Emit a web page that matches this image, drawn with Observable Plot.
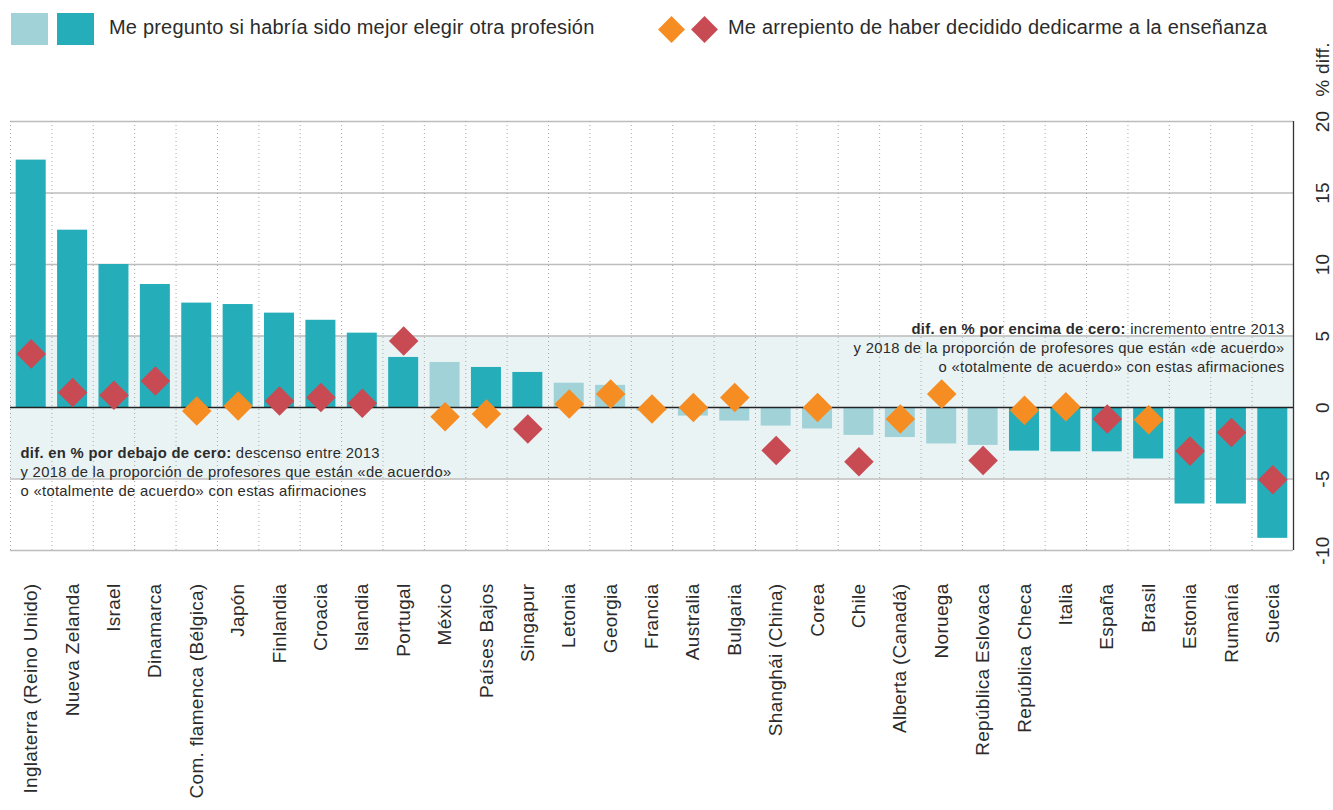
<!DOCTYPE html>
<html>
<head>
<meta charset="utf-8">
<script src="https://cdn.jsdelivr.net/npm/d3@7"></script>
<script src="https://cdn.jsdelivr.net/npm/@observablehq/plot@0.6"></script>
<style>
  body { margin: 0; background: #fff; font-family: "Liberation Sans", Arial, sans-serif; }
  #wrap { position: relative; width: 1333px; height: 810px; overflow: hidden; }
  #chart { position: absolute; left: 0; top: 0; }
  #chart svg text { letter-spacing: 0.3px; }
  #legend { position: absolute; left: 0; top: 0; width: 1333px; height: 60px; z-index: 2; color: #2b2b2b; font-size: 20px; letter-spacing: 0.2px; }
  .sq { position: absolute; top: 13px; width: 37px; height: 32px; }
  .dm { position: absolute; top: 20px; width: 19px; height: 19px; transform: rotate(45deg); }
  .lt { position: absolute; top: 16px; line-height: 23px; white-space: nowrap; }
</style>
</head>
<body>
<div id="wrap">
  <div id="legend"></div>
  <div id="chart"></div>
</div>
<script>
// ---------------- data ----------------
const countries = [
  "Inglaterra (Reino Unido)", "Nueva Zelanda", "Israel", "Dinamarca", "Com. flamenca (Bélgica)",
  "Japón", "Finlandia", "Croacia", "Islandia", "Portugal", "México", "Países Bajos", "Singapur",
  "Letonia", "Georgia", "Francia", "Australia", "Bulgaria", "Shanghái (China)", "Corea", "Chile",
  "Alberta (Canadá)", "Noruega", "República Eslovaca", "República Checa", "Italia", "España",
  "Brasil", "Estonia", "Rumanía", "Suecia"
];
// "Me pregunto si habría sido mejor elegir otra profesión" (% diff. 2013-2018)
const betterProfession = [
  17.3, 12.4, 10.0, 8.6, 7.3, 7.2, 6.6, 6.1, 5.2, 3.5, 3.15, 2.8, 2.45,
  1.7, 1.55, -0.25, -0.6, -0.95, -1.3, -1.5, -1.95,
  -2.1, -2.55, -2.65, -3.05, -3.1, -3.1, -3.6, -6.75, -6.75, -9.15
];
const betterProfessionSig = [
  1, 1, 1, 1, 1, 1, 1, 1, 1, 1, 0, 1, 1,
  0, 0, 0, 0, 0, 0, 0, 0,
  0, 0, 0, 1, 1, 1, 1, 1, 1, 1
];
// "Me arrepiento de haber decidido dedicarme a la enseñanza" (% diff. 2013-2018)
const regret = [
  3.75, 1.05, 0.85, 1.85, -0.25, 0.1, 0.45, 0.7, 0.3, 4.65, -0.65, -0.45, -1.5,
  0.25, 0.95, -0.1, 0.0, 0.7, -3.0, 0.0, -3.8,
  -0.8, 0.95, -3.7, -0.2, 0.05, -0.8, -0.85, -3.05, -1.75, -5.05
];
const regretSig = [
  1, 1, 1, 1, 0, 0, 1, 1, 1, 1, 0, 0, 1,
  0, 0, 0, 0, 0, 1, 0, 1,
  0, 0, 1, 0, 0, 1, 0, 1, 1, 1
];
const yDomain = [-10, 20];
const gridValues = [-10, -5, 5, 10, 15, 20];
const yTicks = [-10, -5, 0, 5, 10, 15, 20];
const yTickLabels = ["-10", "-5", "0", "5", "10", "15", "20"];
const yAxisLabel = "% diff.";
const bandRange = [-5, 5];
const legendBars = "Me pregunto si habría sido mejor elegir otra profesión";
const legendDiamonds = "Me arrepiento de haber decidido dedicarme a la enseñanza";
const annotUpper = [
  "dif. en % por encima de cero: incremento entre 2013",
  "y 2018 de la proporción de profesores que están «de acuerdo»",
  "o «totalmente de acuerdo» con estas afirmaciones"
];
const annotLower = [
  "dif. en % por debajo de cero: descenso entre 2013",
  "y 2018 de la proporción de profesores que están «de acuerdo»",
  "o «totalmente de acuerdo» con estas afirmaciones"
];
const boldPrefixes = ["dif. en % por encima de cero:", "dif. en % por debajo de cero:"];

// ---------------- styles ----------------
const DARK = "#25aeba", LIGHT = "#a1d2d8", ORANGE = "#f68d22", RED = "#c84a53";
const BAND = "#e9f3f4", GRID = "#bdbdbd", TXT = "#2b2b2b";
const FONT = '"Liberation Sans", Arial, sans-serif';

// ---------------- legend ----------------
const legend = document.getElementById("legend");
legend.innerHTML = `
  <div class="sq" style="left:11px;background:${LIGHT}"></div>
  <div class="sq" style="left:57px;background:${DARK}"></div>
  <div class="lt" style="left:109px">${legendBars}</div>
  <div class="dm" style="left:661.5px;background:${ORANGE}"></div>
  <div class="dm" style="left:695px;background:${RED}"></div>
  <div class="lt" style="left:728px">${legendDiamonds}</div>
`;

// ---------------- chart ----------------
const data = countries.map((c, i) => ({
  country: c,
  bar: betterProfession[i],
  barSig: betterProfessionSig[i],
  dia: regret[i],
  diaSig: regretSig[i]
}));

const W = 1333, H = 810, mL = 10, mR = 40, mT = 121, mB = 260;
const step = (W - mL - mR) / countries.length;

const chart = Plot.plot({
  width: W, height: H,
  marginTop: mT, marginBottom: mB, marginLeft: mL, marginRight: mR,
  style: { fontFamily: FONT, background: "transparent", color: TXT, overflow: "visible" },
  x: { domain: countries, paddingInner: 0.275, paddingOuter: 0.1375, round: false, axis: null },
  y: { domain: yDomain, axis: null },
  marks: [
    Plot.rect([bandRange], { y1: d => d[0], y2: d => d[1], fill: BAND }),
    Plot.ruleY(gridValues, { stroke: GRID, strokeWidth: 1.3 }),
    Plot.ruleX(countries, { x: d => d, dx: -step / 2, stroke: "#a8a8a8", strokeDasharray: "1,3" }),
    Plot.barY(data, { x: "country", y: "bar", fill: d => d.barSig ? DARK : LIGHT }),
    Plot.ruleY([0], { stroke: "#222", strokeWidth: 1.5 }),
    Plot.ruleX(countries.slice(-1), { x: d => d, dx: step / 2, stroke: "#333", strokeWidth: 1.3 }),
    Plot.dot(data, { x: "country", y: "dia", symbol: "diamond2", r: 13.3, fill: d => d.diaSig ? RED : ORANGE, stroke: null }),
    // annotations
    Plot.text([annotUpper.join("\n")], {
      text: d => d, y: bandRange[1], frameAnchor: "right", dx: -9, dy: 11,
      textAnchor: "end", lineAnchor: "middle", lineHeight: 1.3, fontSize: 14.8, fill: TXT
    }),
    Plot.text([annotLower.join("\n")], {
      text: d => d, y: bandRange[0], frameAnchor: "left", dx: 10, dy: -8,
      textAnchor: "start", lineAnchor: "middle", lineHeight: 1.3, fontSize: 14.8, fill: TXT
    }),
    // y axis (right, rotated labels)
    Plot.text(yTicks, {
      y: d => d, text: (d, i) => yTickLabels[i], frameAnchor: "right", dx: 29,
      rotate: -90, textAnchor: "middle", lineAnchor: "middle", fontSize: 19, fill: TXT
    }),
    Plot.text([yAxisLabel], {
      text: d => d, frameAnchor: "top-right", dx: 29, dy: -52,
      rotate: -90, textAnchor: "middle", lineAnchor: "middle", fontSize: 19, fill: TXT
    }),
    // x labels (rotated)
    Plot.text(countries, {
      x: d => d, text: d => d, frameAnchor: "bottom", dy: 33,
      rotate: -90, textAnchor: "end", lineAnchor: "middle", fontSize: 19, fill: TXT
    })
  ]
});

// bold prefixes in annotations
d3.select(chart).selectAll("text, tspan").each(function () {
  if (this.childElementCount) return;
  const t = this.textContent;
  for (const p of boldPrefixes) {
    if (t.startsWith(p)) {
      const rest = t.slice(p.length);
      this.textContent = "";
      d3.select(this).append("tspan").attr("font-weight", "bold").text(p);
      d3.select(this).append("tspan").text(rest);
    }
  }
});

document.getElementById("chart").appendChild(chart);
</script>
</body>
</html>
